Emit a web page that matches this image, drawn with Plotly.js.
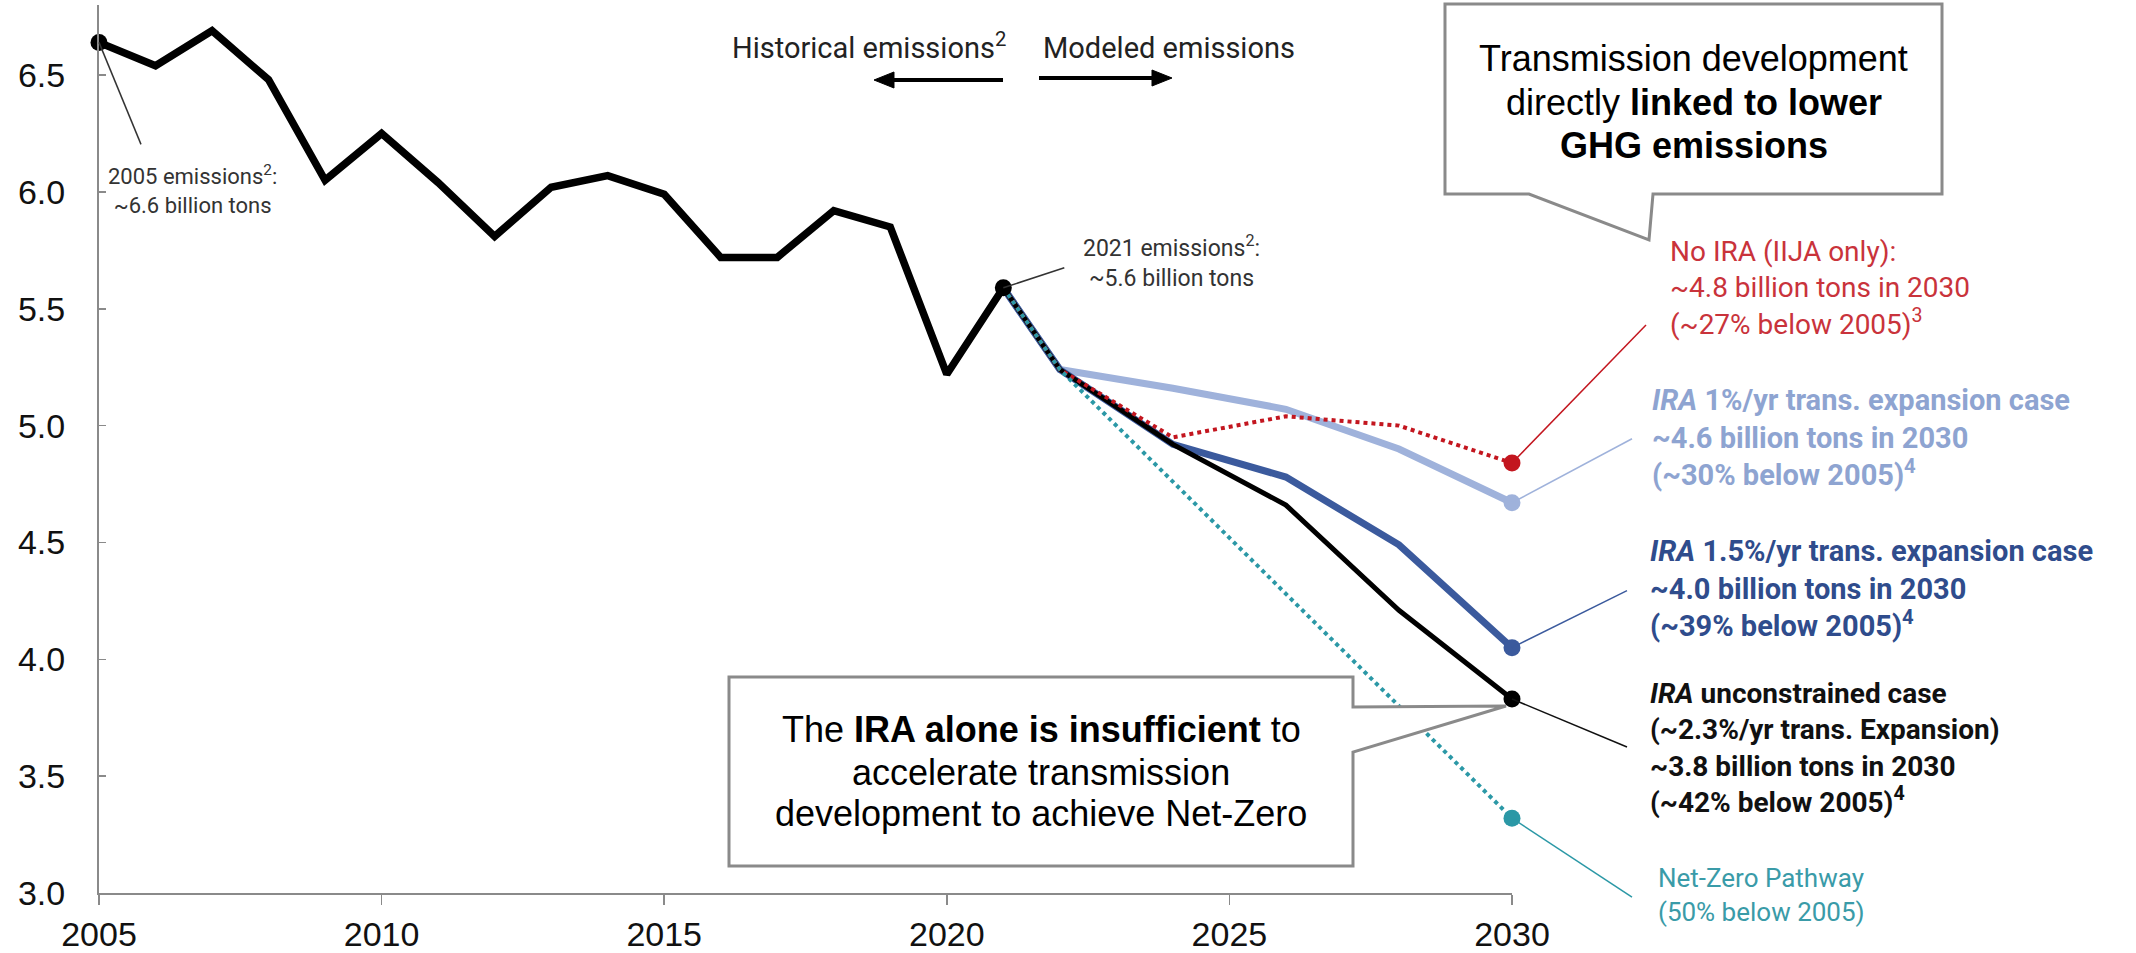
<!DOCTYPE html>
<html>
<head>
<meta charset="utf-8">
<script src="https://cdn.plot.ly/plotly-3.0.1.min.js"></script>
<style>
  html, body { margin: 0; padding: 0; background: #ffffff; }
  #chart { width: 2136px; height: 953px; }
</style>
</head>
<body>
<div id="chart"></div>
<script>
// U.S. greenhouse-gas emissions, billion tons
const histYears = [2005, 2006, 2007, 2008, 2009, 2010, 2011, 2012, 2013, 2014, 2015, 2016, 2017, 2018, 2019, 2020, 2021];
const histValues = [6.64, 6.54, 6.69, 6.48, 6.05, 6.25, 6.04, 5.81, 6.02, 6.07, 5.99, 5.72, 5.72, 5.92, 5.85, 5.22, 5.59];

const modelYears = [2021, 2022, 2024, 2026, 2028, 2030];
const iraUnconstrained = [5.59, 5.24, 4.92, 4.66, 4.21, 3.83];
const ira15 = [5.59, 5.24, 4.92, 4.78, 4.49, 4.05];
const ira10 = [5.59, 5.24, 5.16, 5.07, 4.90, 4.67];
const noIra = [5.59, 5.24, 4.95, 5.04, 5.00, 4.84];

const netZeroYears = [2021, 2022, 2030];
const netZero = [5.59, 5.24, 3.32];

const xTicks = [2005, 2010, 2015, 2020, 2025, 2030];
const yTicks = [3.0, 3.5, 4.0, 4.5, 5.0, 5.5, 6.0, 6.5];

// colours
const C = {
  black: '#000000',
  dark: '#3b5a9d', darkText: '#2f4c8c',
  light: '#9fb2db', lightText: '#8ea4d1',
  red: '#c3161f', redText: '#c9333b',
  teal: '#2b98a6', tealText: '#3a9ba8',
  frame: '#8a8a8a'
};

const W = 2136, H = 953;
const M = { l: 99, r: 624, t: 5, b: 60 };
const X_RANGE = [2005, 2030], Y_RANGE = [3.0, 6.8];
const PW = W - M.l - M.r, PH = H - M.t - M.b;
const pxPerYear = PW / (X_RANGE[1] - X_RANGE[0]);
const pxPerUnit = PH / (Y_RANGE[1] - Y_RANGE[0]);
// pixel -> paper fraction
const px = x => (x - M.l) / PW;
const py = y => (H - M.b - y) / PH;
// data -> pixel
const dataX = v => M.l + (v - X_RANGE[0]) * pxPerYear;
const dataY = v => H - M.b - (v - Y_RANGE[0]) * pxPerUnit;

function polyPath(points) {
  return 'M ' + points.map(p => px(p[0]).toFixed(5) + ',' + py(p[1]).toFixed(5)).join(' L ') + ' Z';
}

const last = a => a[a.length - 1];

function line(x, y, color, width, dash) {
  return { x, y, type: 'scatter', mode: 'lines', hoverinfo: 'skip', cliponaxis: false,
           line: { color, width, dash: dash || 'solid' } };
}
function endDot(x, y, color, size) {
  return { x: [x], y: [y], type: 'scatter', mode: 'markers', hoverinfo: 'skip', cliponaxis: false,
           marker: { color, size: size || 17 } };
}

const traces = [
  line(modelYears, ira10, C.light, 7),
  line(modelYears, ira15, C.dark, 7),
  line(modelYears, iraUnconstrained, C.black, 5),
  line(histYears, histValues, C.black, 7.5),
  line(modelYears, noIra, C.red, 4, 'dot'),
  line(netZeroYears, netZero, C.teal, 4, 'dot'),
  endDot(histYears[0], histValues[0], C.black),
  endDot(last(histYears), last(histValues), C.black),
  endDot(last(modelYears), last(noIra), C.red),
  endDot(last(modelYears), last(ira10), C.light),
  endDot(last(modelYears), last(ira15), C.dark),
  endDot(last(modelYears), last(iraUnconstrained), C.black),
  endDot(last(netZeroYears), last(netZero), C.teal)
];

const ROBOTO = 'Roboto, "Noto Sans", sans-serif';
const ARIAL = '"Liberation Sans", Arial, sans-serif';

// thin leader from a data point out to its label, offset given in pixels
function leader(xv, yv, dx, dy, color) {
  const x0 = dataX(xv), y0 = dataY(yv);
  return { type: 'line', xref: 'paper', yref: 'paper', layer: 'above',
           x0: px(x0), y0: py(y0), x1: px(x0 + dx), y1: py(y0 + dy),
           line: { color, width: 1.5 } };
}
// horizontal arrow in pixel space: tail -> tip
function arrowShapes(xTail, xTip, y) {
  const dir = Math.sign(xTip - xTail), headLen = 20, half = 8;
  const base = xTip - dir * headLen;
  return [
    { type: 'line', xref: 'paper', yref: 'paper', x0: px(xTail), y0: py(y), x1: px(base + dir * 2), y1: py(y),
      line: { color: '#000', width: 4 } },
    { type: 'path', xref: 'paper', yref: 'paper', path: polyPath([[xTip, y], [base, y - half], [base, y + half]]),
      fillcolor: '#000', line: { color: '#000', width: 1 } }
  ];
}

const shapes = [
  { type: 'path', xref: 'paper', yref: 'paper', layer: 'above',
    path: polyPath([[1445, 4], [1942, 4], [1942, 194], [1653, 194], [1649, 240], [1529, 194], [1445, 194]]),
    fillcolor: '#ffffff', line: { color: C.frame, width: 3 } },
  { type: 'path', xref: 'paper', yref: 'paper', layer: 'above',
    path: polyPath([[729, 677], [1353, 677], [1353, 707], [1506, 706], [1353, 752], [1353, 866], [729, 866]]),
    fillcolor: '#ffffff', line: { color: C.frame, width: 3 } },
  ...arrowShapes(1003, 874, 80),
  ...arrowShapes(1039, 1172, 78),
  leader(histYears[0], histValues[0], 42, 102, '#333'),
  leader(last(histYears), last(histValues), 61, -20, '#333'),
  leader(last(modelYears), last(noIra), 134, -138, C.red),
  leader(last(modelYears), last(ira10), 120, -64, C.light),
  leader(last(modelYears), last(ira15), 115, -57, C.dark),
  leader(last(modelYears), last(iraUnconstrained), 115, 48, '#111'),
  leader(last(netZeroYears), last(netZero), 120, 79, C.teal)
];

function text(x, y, t, font, opts) {
  return Object.assign({ xref: 'paper', yref: 'paper', x: px(x), y: py(y), text: t, showarrow: false,
                         xanchor: 'center', yanchor: 'middle', align: 'center', font }, opts || {});
}
const leftText = { xanchor: 'left', align: 'left' };
const calloutFont = { family: ARIAL, size: 36, color: '#000' };

const annotations = [
  // period headings
  text(1008, 46, 'Historical emissions<sup>2</sup>', { family: ROBOTO, size: 29, color: '#222' }, { xanchor: 'right' }),
  text(1041, 48, 'Modeled emissions', { family: ROBOTO, size: 29, color: '#222' }, { xanchor: 'left' }),

  // point notes
  text(192, 189, '2005 emissions<sup>2</sup>:<br>~6.6 billion tons', { family: ROBOTO, size: 22, color: '#333' }),
  text(1171, 261, '2021 emissions<sup>2</sup>:<br>~5.6 billion tons', { family: ROBOTO, size: 23, color: '#333' }),

  // scenario labels
  text(1668, 288, 'No IRA (IIJA only):<br>~4.8 billion tons in 2030<br>(~27% below 2005)<sup>3</sup>',
       { family: ROBOTO, size: 28, color: C.redText }, leftText),
  text(1650, 437, '<b><i>IRA</i> 1%/yr trans. expansion case<br>~4.6 billion tons in 2030<br>(~30% below 2005)<sup>4</sup></b>',
       { family: ROBOTO, size: 29, color: C.lightText }, leftText),
  text(1648, 588, '<b><i>IRA</i> 1.5%/yr trans. expansion case<br>~4.0 billion tons in 2030<br>(~39% below 2005)<sup>4</sup></b>',
       { family: ROBOTO, size: 29, color: C.darkText }, leftText),
  text(1648, 748, '<b><i>IRA</i> unconstrained case<br>(~2.3%/yr trans. Expansion)<br>~3.8 billion tons in 2030<br>(~42% below 2005)<sup>4</sup></b>',
       { family: ROBOTO, size: 28, color: '#111' }, leftText),
  text(1656, 895, 'Net-Zero Pathway<br>(50% below 2005)',
       { family: ROBOTO, size: 26, color: C.tealText }, leftText),

  // callouts
  text(1694, 58, 'Transmission development', calloutFont),
  text(1694, 102, 'directly <b>linked to lower</b>', calloutFont),
  text(1694, 145, '<b>GHG emissions</b>', calloutFont),
  text(1041, 730, 'The <b>IRA alone is insufficient</b> to', calloutFont),
  text(1041, 772, 'accelerate transmission', calloutFont),
  text(1041, 813, 'development to achieve Net-Zero', calloutFont)
];

const layout = {
  width: W, height: H,
  margin: M,
  paper_bgcolor: '#ffffff', plot_bgcolor: '#ffffff',
  showlegend: false,
  xaxis: {
    range: X_RANGE, tickvals: xTicks, ticktext: xTicks.map(String),
    showgrid: false, zeroline: false, showline: true, linecolor: C.frame, linewidth: 2,
    ticks: 'outside', ticklen: 10, tickwidth: 1.5, tickcolor: C.frame,
    ticklabelstandoff: 0,
    tickfont: { family: ARIAL, size: 34, color: '#111' }
  },
  yaxis: {
    range: Y_RANGE, tickvals: yTicks, ticktext: yTicks.map(v => v.toFixed(1)),
    showgrid: false, zeroline: false, showline: true, linecolor: C.frame, linewidth: 2,
    ticks: 'inside', ticklen: 7, tickwidth: 1.5, tickcolor: C.frame,
    ticklabelstandoff: 25,
    tickfont: { family: ARIAL, size: 34, color: '#111' }
  },
  shapes, annotations
};

Plotly.newPlot('chart', traces, layout, { displayModeBar: false, staticPlot: true });
</script>
</body>
</html>
